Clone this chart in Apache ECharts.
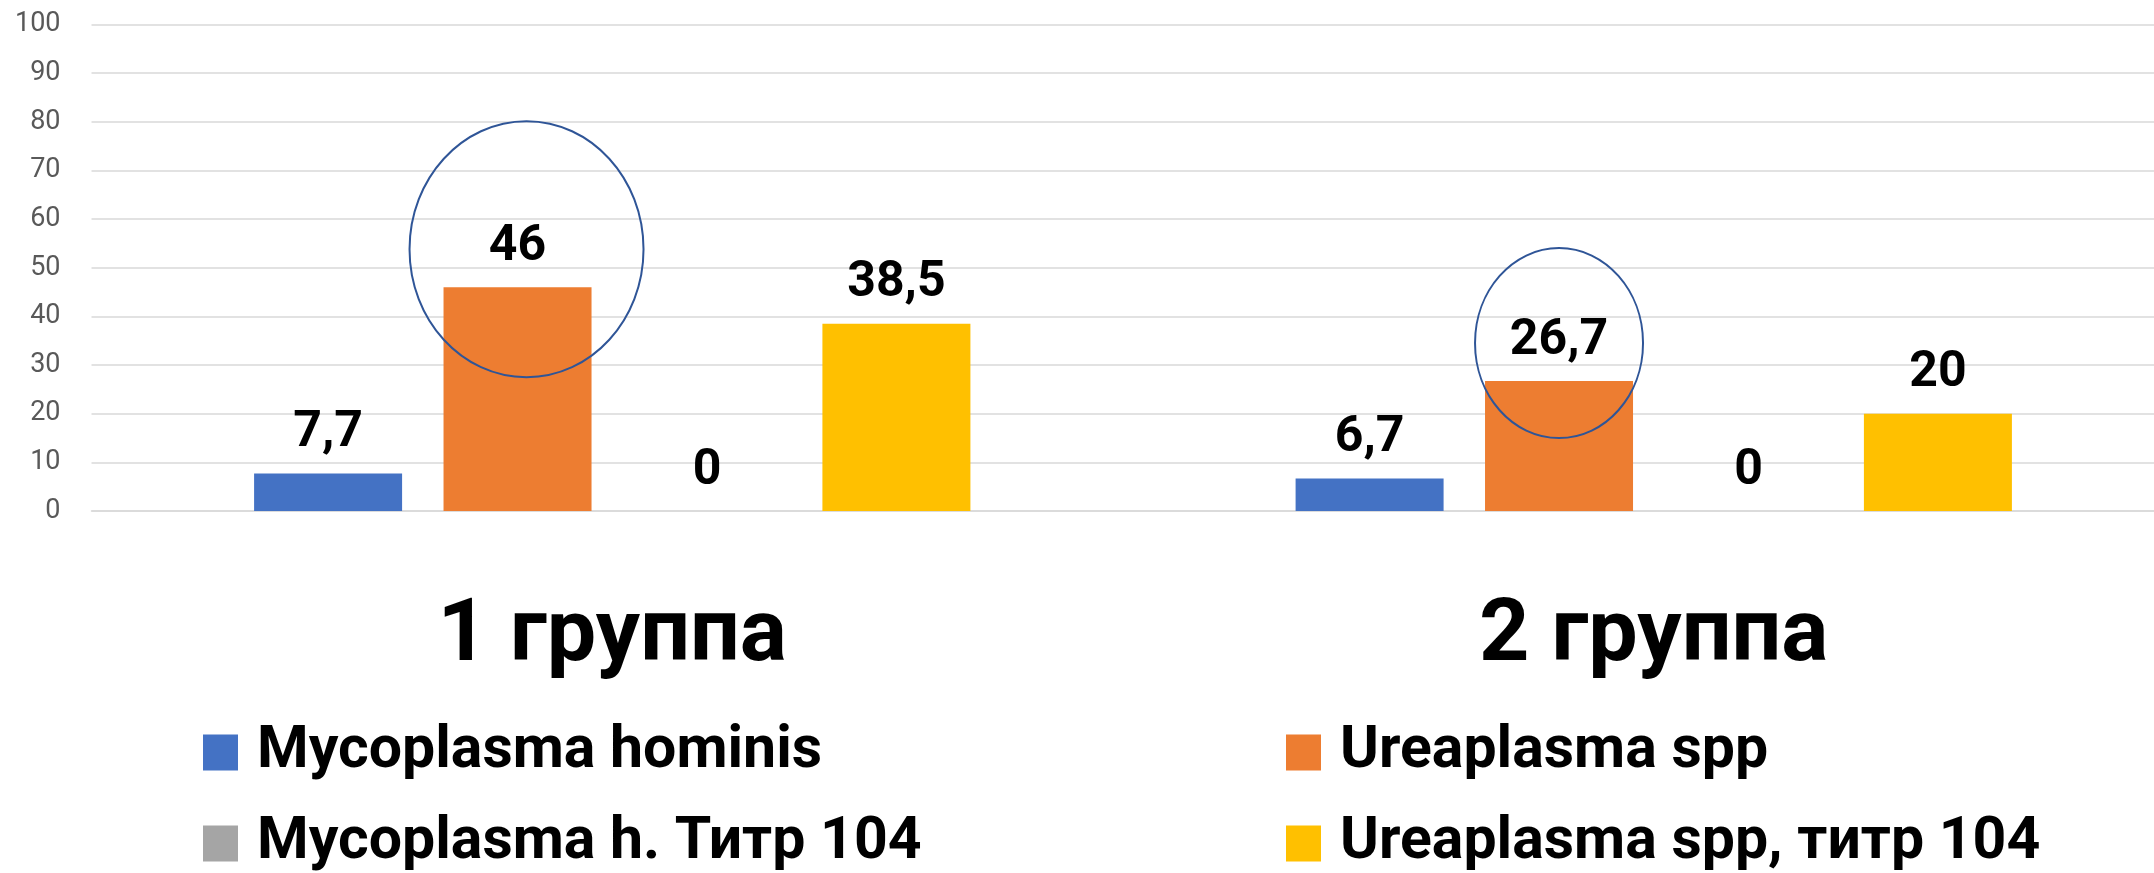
<!DOCTYPE html>
<html>
<head>
<meta charset="utf-8">
<script src="https://cdn.jsdelivr.net/npm/echarts@6/dist/echarts.min.js"></script>
<style>
  html, body { margin: 0; padding: 0; background: #fff; }
  #main { width: 2154px; height: 873px; }
</style>
</head>
<body>
<div id="main"></div>
<script>
// категории и ряды
var groups = ['1 группа', '2 группа']
var names = ['Mycoplasma hominis', 'Ureaplasma spp', 'Mycoplasma h. Титр 104', 'Ureaplasma spp, титр 104']
var hominis = [7.7, 6.7]
var ureaplasma = [46, 26.7]
var hominisTitr = [0, 0]
var ureaplasmaTitr = [38.5, 20]
var yMin = 0
var yMax = 100
var yStep = 10

// обведённые значения (серия, группа)
var marked = [
  { series: 1, item: 0, dx: 9, rx: 117, ry: 128 },
  { series: 1, item: 1, dx: 0, rx: 84, ry: 95 }
]

var colors = ['#4472C4', '#ED7D31', '#A5A5A5', '#FFC000']
var font = 'Roboto'

function makeSeries (name, data, color) {
  return {
    name: name,
    type: 'bar',
    data: data,
    barWidth: 148,
    barGap: '28%',
    itemStyle: { color: color },
    label: {
      show: true,
      position: 'top',
      distance: 15,
      fontFamily: font,
      fontWeight: 'bold',
      fontSize: 50,
      color: '#000',
      formatter: function (p) { return String(p.value).replace('.', ',') }
    }
  }
}

function makeLegend (name, left, top) {
  return {
    data: [name],
    left: left,
    top: top,
    padding: 0,
    icon: 'rect',
    itemWidth: 35,
    itemHeight: 36,
    selectedMode: false,
    textStyle: {
      fontFamily: font,
      fontWeight: 'bold',
      fontSize: 59,
      color: '#000',
      padding: [0, 0, 0, 14]
    }
  }
}

var option = {
  animation: false,
  backgroundColor: '#fff',
  grid: { left: 91.5, top: 24.5, width: 2083, height: 486.5, outerBoundsMode: 'none', containLabel: false },
  legend: [
    makeLegend(names[0], 203, 723),
    makeLegend(names[1], 1286, 723),
    makeLegend(names[2], 203, 814),
    makeLegend(names[3], 1286, 814)
  ],
  xAxis: {
    type: 'category',
    data: groups,
    axisLine: { lineStyle: { color: '#D9D9D9', width: 1.5 } },
    axisTick: { show: false },
    axisLabel: {
      margin: 83,
      fontFamily: font,
      fontWeight: 'bold',
      fontSize: 88,
      color: '#000'
    }
  },
  yAxis: {
    type: 'value',
    min: yMin,
    max: yMax,
    interval: yStep,
    axisLine: { show: false },
    axisTick: { show: false },
    axisLabel: { margin: 31, fontFamily: font, fontSize: 27, color: '#595959' },
    splitLine: { lineStyle: { color: '#D9D9D9', width: 1.5 } }
  },
  series: [
    makeSeries(names[0], hominis, colors[0]),
    makeSeries(names[1], ureaplasma, colors[1]),
    makeSeries(names[2], hominisTitr, colors[2]),
    makeSeries(names[3], ureaplasmaTitr, colors[3])
  ]
}

var myChart = echarts.init(document.getElementById('main'), null, { renderer: 'canvas' })
myChart.setOption(option)

// овалы вокруг подписей, по раскладке столбцов
var model = myChart.getModel()
var ellipses = marked.map(function (m) {
  var lay = model.getSeriesByIndex(m.series).getData().getItemLayout(m.item)
  return {
    type: 'ellipse',
    silent: true,
    z: 100,
    shape: { cx: lay.x + lay.width / 2 + m.dx, cy: lay.y + lay.height - 38, rx: m.rx, ry: m.ry },
    style: { fill: 'none', stroke: '#2F5597', lineWidth: 2 }
  }
})
myChart.setOption({ graphic: ellipses })
</script>
</body>
</html>
